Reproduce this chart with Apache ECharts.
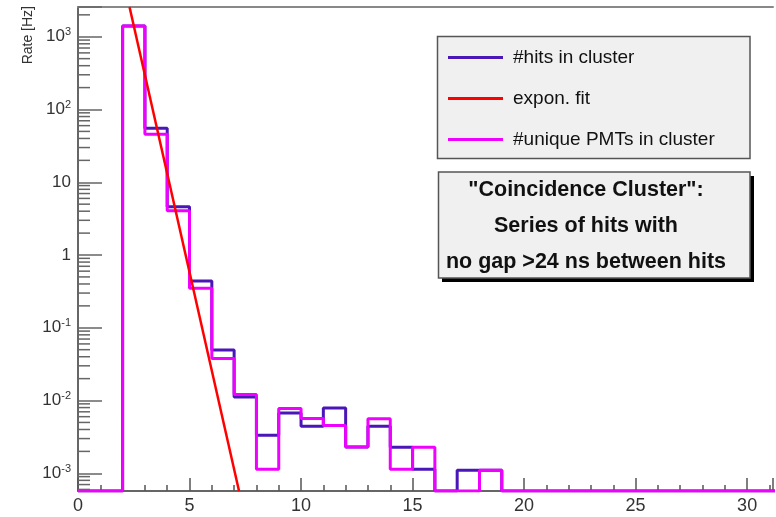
<!DOCTYPE html>
<html><head><meta charset="utf-8">
<script src="https://cdn.jsdelivr.net/npm/echarts@6/dist/echarts.min.js"></script>
<style>html,body{margin:0;padding:0;background:#fff}#c{width:776px;height:517px}</style>
</head><body><div id="c"></div>
<script>
// ---- data ----
const binStart = 0;
const binWidth = 1;
const hitsRate = [0, 0, 1400, 55.4, 4.62, 0.439, 0.0493, 0.0112, 0.00334, 0.00676, 0.00443, 0.00792, 0.0023, 0.00443, 0.00228, 0.00114, 0, 0.0011, 0.0011, 0, 0, 0, 0, 0, 0, 0, 0, 0, 0, 0, 0, 0];
const pmtRate  = [0, 0, 1400, 45.8, 4.07, 0.348, 0.0379, 0.0121, 0.00114, 0.00777, 0.00565, 0.00453, 0.0023, 0.0056, 0.00114, 0.00228, 0, 0, 0.0011, 0, 0, 0, 0, 0, 0, 0, 0, 0, 0, 0, 0, 0];
const fitX = [2.31, 7.22];
const fitRate = [2563, 0.000571];
const seriesNames = ['#hits in cluster', 'expon. fit', '#unique PMTs in cluster'];
const xTickLabels = [0, 5, 10, 15, 20, 25, 30];
const yTickExponents = [-3, -2, -1, 0, 1, 2, 3];
const noteLines = ['"Coincidence Cluster":', 'Series of hits with', 'no gap >24 ns between hits'];
const yTitle = 'Rate [Hz]';

const xMin = 0, xMax = 31.16;
const yMin = 0.000571, yMax = 2563;

function steps(vals) {
  const pts = [];
  vals.forEach((v, i) => pts.push([binStart + i * binWidth, v > 0 ? v : yMin]));
  const last = vals[vals.length - 1];
  pts.push([binStart + vals.length * binWidth, last > 0 ? last : yMin]);
  return pts;
}
const minorVals = [];
for (let e = -4; e <= 3; e++) for (let m = 2; m <= 9; m++) {
  const v = m * Math.pow(10, e);
  if (v > yMin && v < yMax) minorVals.push([xMin, v]);
}

const FONT = '"Liberation Sans", Arial, Helvetica, sans-serif';
const chart = echarts.init(document.getElementById('c'), null, {renderer: 'canvas'});
chart.setOption({
  animation: false,
  backgroundColor: '#fff',
  grid: {left: 78, right: 0, top: 7, bottom: 26, containLabel: false},
  xAxis: [{
    type: 'value', min: xMin, max: xMax, interval: 5,
    axisLine: {lineStyle: {color: '#666', width: 2}},
    axisTick: {inside: true, length: 13, lineStyle: {color: '#555', width: 1.5}},
    minorTick: {show: true, splitNumber: 5, length: 6, lineStyle: {color: '#555', width: 1.5}},
    splitLine: {show: false},
    axisLabel: {
      margin: 6, color: '#333', fontSize: 18, fontFamily: FONT,
      formatter: v => xTickLabels.indexOf(Math.round(v * 1000) / 1000) >= 0 ? String(v) : ''
    }
  }, {
    type: 'value', position: 'top', min: xMin, max: xMax,
    axisLine: {show: true, onZero: false, lineStyle: {color: '#888', width: 2}},
    axisTick: {show: false}, axisLabel: {show: false}, splitLine: {show: false}
  }],
  yAxis: {
    type: 'log', logBase: 10, min: yMin, max: yMax,
    axisLine: {show: true, lineStyle: {color: '#666', width: 2}},
    axisTick: {inside: true, length: 24, lineStyle: {color: '#666', width: 1.5}},
    splitLine: {show: false},
    axisLabel: {
      margin: 7, color: '#333', fontSize: 17, fontFamily: FONT,
      formatter: v => {
        const l = Math.log10(v), e = Math.round(l);
        if (Math.abs(l - e) > 1e-6 || yTickExponents.indexOf(e) < 0) return '';
        if (e === 0) return '1';
        if (e === 1) return '10';
        return '10{s|' + e + '}';
      },
      rich: {s: {fontSize: 11, fontFamily: FONT, color: '#333', padding: [0, 0, 9, 0]}}
    }
  },
  legend: {
    data: seriesNames, z: 100,
    orient: 'vertical', left: 448, top: 48,
    itemWidth: 55, itemHeight: 3, itemGap: 22, icon: 'rect',
    selectedMode: false, padding: 0,
    textStyle: {fontSize: 19, lineHeight: 18, color: '#111', fontFamily: FONT, padding: [0, 0, 0, 5]}
  },
  graphic: [
    {type: 'rect', z: 50, shape: {x: 437.5, y: 36.5, width: 312.5, height: 122}, style: {fill: '#f0f0f0', stroke: '#555', lineWidth: 1.5}},
    {type: 'rect', z: 49, shape: {x: 442, y: 176, width: 312, height: 106}, style: {fill: '#000'}},
    {type: 'rect', z: 50, shape: {x: 438.5, y: 172, width: 311.5, height: 106}, style: {fill: '#f0f0f0', stroke: '#555', lineWidth: 1.5}},
    ...noteLines.map((t, i) => ({type: 'text', z: 51, x: 586, y: 190 + i * 36,
      style: {text: t, fill: '#111', font: 'bold 21.5px ' + FONT, align: 'center', verticalAlign: 'middle'}})),
    {type: 'text', z: 51, x: 28, y: 6, rotation: Math.PI / 2,
      style: {text: yTitle, fill: '#333', font: '14px ' + FONT, align: 'right', verticalAlign: 'middle'}}
  ],
  series: [
    {name: seriesNames[0], type: 'line', step: 'end', data: steps(hitsRate), showSymbol: false, symbol: 'none',
      lineStyle: {color: '#4a16b8', width: 3}, itemStyle: {color: '#4a16b8'}, z: 3, clip: true},
    {name: seriesNames[2], type: 'line', step: 'end', data: steps(pmtRate), showSymbol: false, symbol: 'none',
      lineStyle: {color: '#f000ff', width: 3}, itemStyle: {color: '#f000ff'}, z: 4, clip: true},
    {name: seriesNames[1], type: 'line', data: fitX.map((x, i) => [x, fitRate[i]]), showSymbol: false, symbol: 'none',
      lineStyle: {color: '#ff0000', width: 2.5}, itemStyle: {color: '#ff0000'}, z: 5, clip: true},
    {type: 'custom', name: 'minorTicks', data: minorVals, z: 6, silent: true, clip: false,
      renderItem: (params, api) => {
        const p = api.coord([api.value(0), api.value(1)]);
        return {type: 'line', shape: {x1: p[0], y1: p[1], x2: p[0] + 12, y2: p[1]}, style: {stroke: '#666', lineWidth: 1.5}};
      }}
  ]
});
</script></body></html>
